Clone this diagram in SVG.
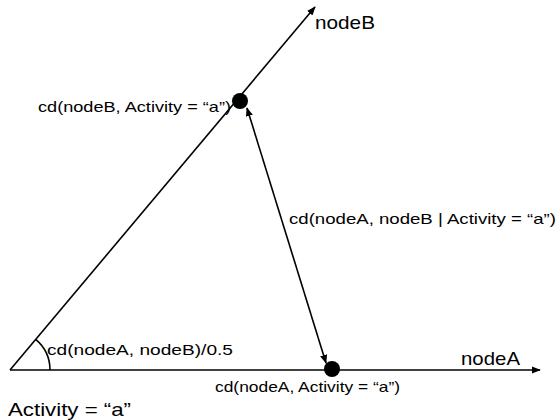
<svg xmlns="http://www.w3.org/2000/svg" width="560" height="420" viewBox="0 0 560 420">
<style>
.ln{stroke:#000;stroke-width:1.6;fill:none}
.big{font-family:"Liberation Sans",Arial,sans-serif;font-size:19px;fill:#000}
.sm{font-family:"Liberation Sans",Arial,sans-serif;font-size:15px;fill:#000}
.dot{fill:#000}
</style>
<defs>
<marker id="ah" viewBox="0 0 10 10" refX="9" refY="5" markerWidth="9" markerHeight="9" markerUnits="userSpaceOnUse" orient="auto-start-reverse">
<path d="M0,1 L10,5 L0,9 Z" fill="#000"/>
</marker>
</defs>
<rect width="560" height="420" fill="#fff"/>
<g id="connectors">
<line class="ln" x1="10" y1="370" x2="315" y2="7" marker-end="url(#ah)"/>
<line class="ln" x1="10" y1="370" x2="540" y2="370" marker-end="url(#ah)"/>
<line class="ln" x1="247" y1="108" x2="326" y2="363" marker-start="url(#ah)" marker-end="url(#ah)"/>
<path class="ln" d="M50,370 A40,40 0 0 0 35.7,339.4"/>
</g>
<g id="nodeB">
<circle class="dot" cx="240" cy="101" r="8"/>
<text class="big" x="315" y="29" textLength="60" lengthAdjust="spacingAndGlyphs">nodeB</text>
<text class="sm" x="38" y="112" textLength="193" lengthAdjust="spacingAndGlyphs">cd(nodeB, Activity = “a”)</text>
</g>
<g id="nodeA">
<circle class="dot" cx="332" cy="369" r="8"/>
<text class="big" x="461" y="365" textLength="59" lengthAdjust="spacingAndGlyphs">nodeA</text>
<text class="sm" x="215" y="392" textLength="185" lengthAdjust="spacingAndGlyphs">cd(nodeA, Activity = “a”)</text>
</g>
<g id="labels">
<text class="sm" x="289" y="224" textLength="267" lengthAdjust="spacingAndGlyphs">cd(nodeA, nodeB | Activity = “a”)</text>
<text class="sm" x="47" y="355" textLength="186" lengthAdjust="spacingAndGlyphs">cd(nodeA, nodeB)/0.5</text>
<text class="big" x="8" y="416" textLength="123" lengthAdjust="spacingAndGlyphs">Activity = “a”</text>
</g>
</svg>
